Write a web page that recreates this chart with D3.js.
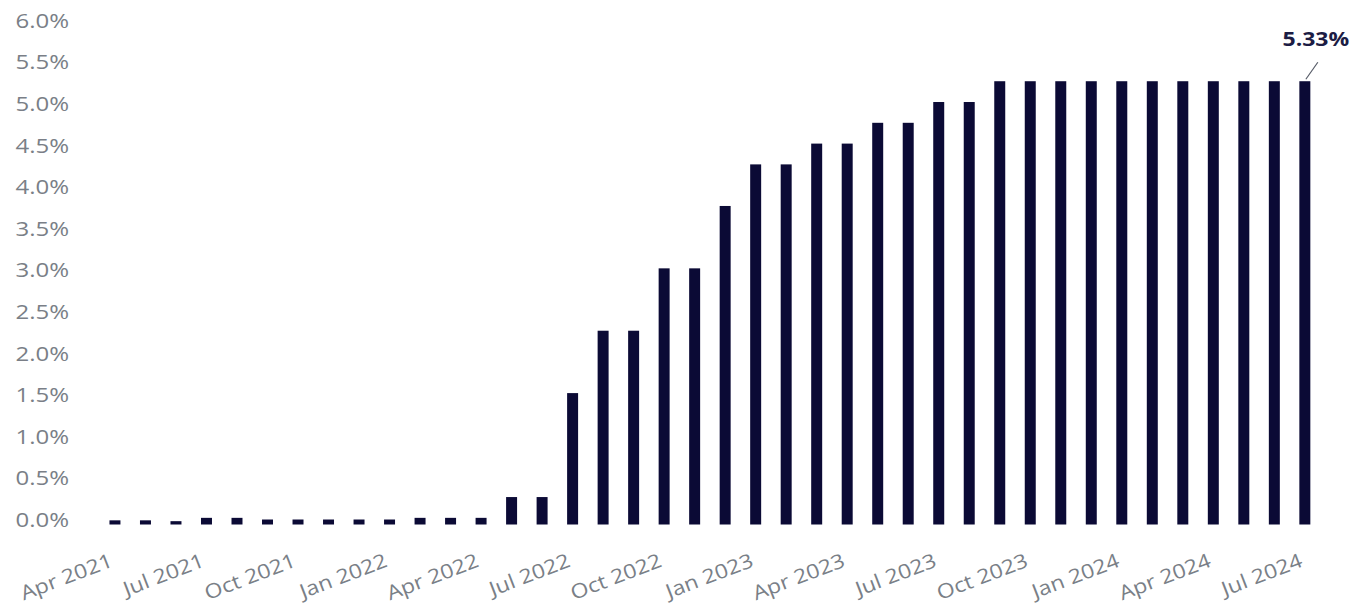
<!DOCTYPE html>
<html>
<head>
<meta charset="utf-8">
<script src="https://cdn.jsdelivr.net/npm/d3@7"></script>
<style>
  html, body { margin: 0; padding: 0; background: #ffffff; }
  svg { display: block; }
</style>
</head>
<body>
<svg id="chart" width="1367" height="610"></svg>
<script>
// Monthly data, Apr 2021 – Jul 2024
const months = [
  "Apr 2021","May 2021","Jun 2021","Jul 2021","Aug 2021","Sep 2021","Oct 2021","Nov 2021","Dec 2021",
  "Jan 2022","Feb 2022","Mar 2022","Apr 2022","May 2022","Jun 2022","Jul 2022","Aug 2022","Sep 2022",
  "Oct 2022","Nov 2022","Dec 2022","Jan 2023","Feb 2023","Mar 2023","Apr 2023","May 2023","Jun 2023",
  "Jul 2023","Aug 2023","Sep 2023","Oct 2023","Nov 2023","Dec 2023","Jan 2024","Feb 2024","Mar 2024",
  "Apr 2024","May 2024","Jun 2024","Jul 2024"
];
const rates = [
  0.05, 0.05, 0.04, 0.08, 0.08, 0.06, 0.06, 0.06, 0.06,
  0.06, 0.08, 0.08, 0.08, 0.33, 0.33, 1.58, 2.33, 2.33,
  3.08, 3.08, 3.83, 4.33, 4.33, 4.58, 4.58, 4.83, 4.83,
  5.08, 5.08, 5.33, 5.33, 5.33, 5.33, 5.33, 5.33, 5.33,
  5.33, 5.33, 5.33, 5.33
];
const xTickLabels = ["Apr 2021","Jul 2021","Oct 2021","Jan 2022","Apr 2022","Jul 2022","Oct 2022",
  "Jan 2023","Apr 2023","Jul 2023","Oct 2023","Jan 2024","Apr 2024","Jul 2024"];
const yTicks = [0, 0.5, 1, 1.5, 2, 2.5, 3, 3.5, 4, 4.5, 5, 5.5, 6];
const annotationLabel = "5.33%";

const svg = d3.select("#chart");

const pad = 0.64;
const x = d3.scaleBand()
  .domain(months)
  .range([99.7, 1320.1])
  .paddingInner(pad)
  .paddingOuter(pad / 2);

const y = d3.scaleLinear().domain([0, 6]).range([524.5, 25.5]);

const FONT = "'Open Sans', 'Noto Sans', sans-serif";

// Y axis labels
const yAxis = svg.append("g").attr("class", "y-axis");
yAxis.selectAll("text")
  .data(yTicks)
  .join("text")
  .attr("transform", d => `translate(69,${y(d) - 3}) scale(1.2,1)`)
  .attr("text-anchor", "end")
  .attr("dominant-baseline", "middle")
  .attr("font-family", FONT)
  .attr("font-size", 20)
  .attr("fill", "#7a7f87")
  .text(d => d3.format(".1f")(d) + "%");

// Bars
svg.append("g").selectAll("rect")
  .data(months.map((m, i) => ({ m, v: rates[i] })))
  .join("rect")
  .attr("x", d => x(d.m))
  .attr("width", x.bandwidth())
  .attr("y", d => y(d.v))
  .attr("height", d => y(0) - y(d.v))
  .attr("fill", "#0b0a35");

// X axis labels (rotated)
const xAxis = svg.append("g").attr("class", "x-axis");
xAxis.selectAll("text")
  .data(xTickLabels)
  .join("text")
  .attr("transform", d => `translate(${x(d) + x.bandwidth() / 2 - 1},${566}) rotate(-21) scale(1.15,1)`)
  .attr("text-anchor", "end")
  .attr("font-family", FONT)
  .attr("font-size", 20)
  .attr("fill", "#7a7f87")
  .text(d => d);

// Annotation on last bar
const last = months[months.length - 1];
const lx = x(last) + x.bandwidth() / 2;
const ly = y(rates[rates.length - 1]);
svg.append("line")
  .attr("x1", lx + 1).attr("y1", ly - 2)
  .attr("x2", lx + 13).attr("y2", ly - 19)
  .attr("stroke", "#555a66")
  .attr("stroke-width", 1.2);
svg.append("text")
  .attr("transform", `translate(${lx + 11},${ly - 41}) scale(1.15,1)`)
  .attr("text-anchor", "middle")
  .attr("dominant-baseline", "middle")
  .attr("font-family", FONT)
  .attr("font-size", 20)
  .attr("font-weight", "bold")
  .attr("fill", "#1c1c44")
  .text(annotationLabel);
</script>
</body>
</html>
